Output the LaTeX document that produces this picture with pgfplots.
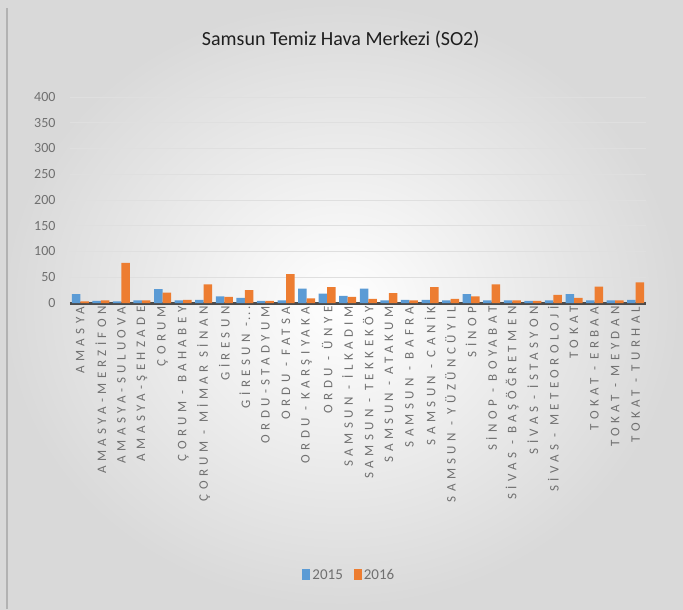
\documentclass[border=0pt]{standalone}
\usepackage{pgfplots}
\pgfplotsset{compat=1.18}
\usepackage{fontspec}
\setmainfont{Carlito}
\newfontfamily\lblfont[LetterSpace=34]{Carlito}
\definecolor{blu}{HTML}{5B9BD5}
\definecolor{ora}{HTML}{ED7D31}
\definecolor{txt}{HTML}{707070}

\pgfplotstableread{
idx y2015 y2016
0 17 3
1 4 5
2 3 78
3 5 5
4 27 20
5 5 6
6 6 36
7 13 12
8 10 25
9 4 4
10 5 56
11 28 9
12 18 31
13 14 12
14 28 8
15 5 19
16 6 5
17 6 31
18 5 8
19 17 13
20 5 36
21 5 5
22 4 4
23 5 16
24 17 10
25 5 32
26 5 5
27 6 40
}\so

\begin{document}
\begin{tikzpicture}
% background of the chart area
\shade[inner color=white, outer color=gray!30] (-70pt,-306pt) rectangle (613pt,303pt);
\draw[gray!60, line width=1.5pt] (-63pt,-306pt) -- (-63pt,295pt);
\begin{axis}[
    at={(0,0)}, anchor=south west,
    scale only axis,
    width=576pt, height=206pt,
    ybar=0pt, bar width=8.5pt,
    xmin=-0.5, xmax=27.5,
    ymin=0, ymax=400,
    ytick={0,50,100,150,200,250,300,350,400},
    xtick=data,
    xticklabels={AMASYA, AMASYA-MERZİFON, AMASYA-SULUOVA, AMASYA-ŞEHZADE, ÇORUM,
        ÇORUM - BAHABEY, ÇORUM - MİMAR SİNAN, GİRESUN, {GİRESUN -{}\,.\,.\,.}, ORDU-STADYUM,
        ORDU - FATSA, ORDU - KARŞIYAKA, ORDU - ÜNYE, SAMSUN - İLKADIM, SAMSUN - TEKKEKÖY,
        SAMSUN - ATAKUM, SAMSUN - BAFRA, SAMSUN - CANİK, SAMSUN - YÜZÜNCÜYIL, SİNOP,
        SİNOP - BOYABAT, SİVAS - BAŞÖĞRETMEN, SİVAS - İSTASYON, SİVAS - METEOROLOJİ, TOKAT,
        TOKAT - ERBAA, TOKAT - MEYDAN, TOKAT - TURHAL},
    x tick label style={rotate=90, anchor=east, font=\lblfont\fontsize{13}{14}\selectfont, text=txt},
    y tick label style={font=\fontsize{14}{15}\selectfont, text=txt, xshift=-11pt},
    /pgf/number format/assume math mode=true,
    major tick length=0pt,
    axis x line*=bottom, axis y line*=left,
    x axis line style={line width=3pt, draw=black!70, -},
    y axis line style={draw=none},
    ymajorgrids, grid style={gray!25, line width=0.8pt},
    title={Samsun Temiz Hava Merkezi (SO2)},
    title style={at={(0.47,1.25)}, anchor=center, font=\fontsize{20}{22}\selectfont, text=black!88},
    legend style={at={(0.485,-1.32)}, anchor=center, draw=none, fill=none,
        legend columns=2, font=\fontsize{15}{16}\selectfont, text=txt,
        /tikz/every even column/.append style={column sep=9pt}},
    legend image code/.code={\fill[#1] (0pt,-5pt) rectangle (8pt,6pt);},
]
\addplot[draw=none, fill=blu] table[x=idx, y=y2015] {\so};
\addplot[draw=none, fill=ora] table[x=idx, y=y2016] {\so};
\legend{2015, 2016}
\end{axis}
\end{tikzpicture}
\end{document}
